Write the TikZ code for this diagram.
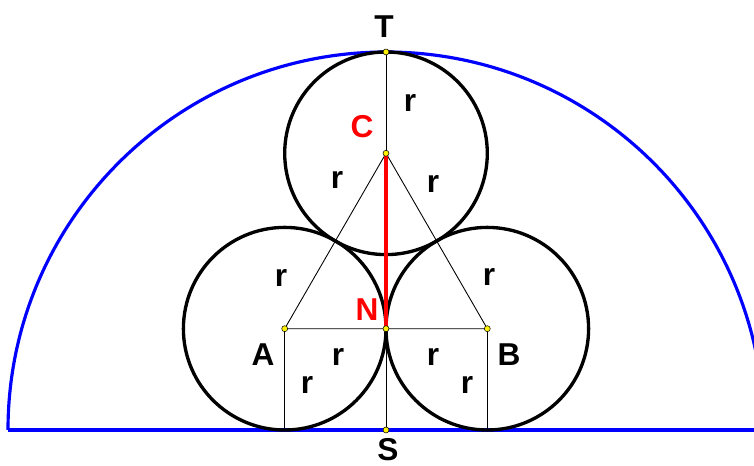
\documentclass[tikz,border=0pt]{standalone}
\usepackage{fontspec}
\setmainfont{Liberation Sans}
\begin{document}
\begin{tikzpicture}[x=0.02cm,y=0.02cm,
    lbl/.style={font=\fontsize{18}{20}\selectfont\bfseries},
    dot/.style={circle,draw=black,fill=yellow,line width=0.3pt,inner sep=0pt,minimum size=3.4pt}]
    \useasboundingbox (0,0) rectangle (754,466);
    \clip (0,0) rectangle (754,466);
    % centres and tangent points
    \coordinate (S) at (386,36);
    \coordinate (T) at (386,414);
    \coordinate (N) at (386,137.3);
    \coordinate (A) at (284.7,137.3);
    \coordinate (B) at (487.3,137.3);
    \coordinate (C) at (386,312.7);
    \coordinate (A0) at (284.7,36);
    \coordinate (B0) at (487.3,36);
    % big half disc
    \draw[blue,line width=1.8pt] (8,36) arc[start angle=180,end angle=0,radius=378];
    \draw[blue,line width=1.8pt] (8,36) -- (754,36);
    % three small circles
    \draw[line width=1.9pt] (A) circle (101.3);
    \draw[line width=1.9pt] (B) circle (101.3);
    \draw[line width=1.9pt] (C) circle (101.3);
    % thin construction lines
    \draw[line width=0.5pt] (A) -- (B) -- (C) -- cycle;
    \draw[line width=0.5pt] (C) -- (T);
    \draw[line width=0.5pt] (N) -- (S);
    \draw[line width=0.5pt] (A) -- (A0);
    \draw[line width=0.5pt] (B) -- (B0);
    \draw[red,line width=1.9pt] (C) -- (N);
    % points
    \foreach \p in {S,T,N,A,B,C} \node[dot] at (\p) {};
    % labels
    \node[lbl] (lT) at (384,439) {T};
    \node[lbl] (lS) at (388,16) {S};
    \node[lbl] (lA) at (263,111) {A};
    \node[lbl] (lB) at (509,111) {B};
    \node[lbl,red] (lC) at (362,339) {C};
    \node[lbl,red] (lN) at (367,156) {N};
    \node[lbl] (r1) at (410,363) {r};
    \node[lbl] (r2) at (337,286) {r};
    \node[lbl] (r3) at (433,282) {r};
    \node[lbl] (r4) at (281,188) {r};
    \node[lbl] (r5) at (489,189) {r};
    \node[lbl] (r6) at (338,109) {r};
    \node[lbl] (r7) at (307,81) {r};
    \node[lbl] (r8) at (433,109) {r};
    \node[lbl] (r9) at (467,81) {r};
\end{tikzpicture}
\end{document}
